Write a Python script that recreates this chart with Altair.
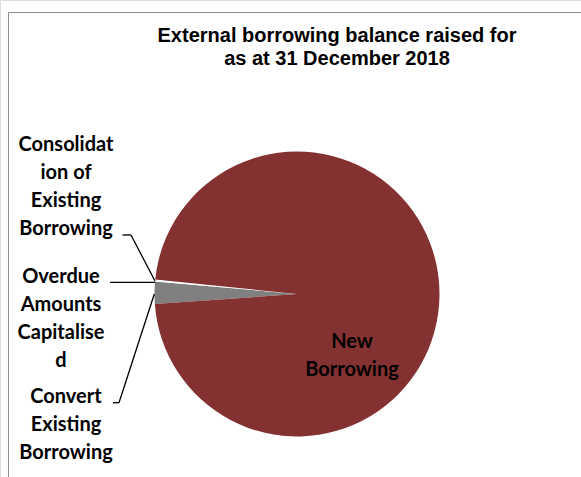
import math
import altair as alt
import pandas as pd

# ---- data ----
categories = ["Convert Existing Borrowing", "Overdue Amounts Capitalised",
              "Consolidation of Existing Borrowing", "New Borrowing"]
values = [2.53, 0.1, 0.1, 97.27]
colors = ["#808080", "#ffffff", "#ffffff", "#843131"]
title_lines = ["External borrowing balance raised for", "as at 31 December 2018"]

df = pd.DataFrame({"label": categories, "value": values, "order": list(range(len(categories)))})

W, H = 581, 477
CX, CY, R = 297, 294, 142.5
start = math.radians(265.97)

font_lbl = "Lato"
font_title = "Liberation Sans"

pie = alt.Chart(df).mark_arc(outerRadius=R).encode(
    theta=alt.Theta("value:Q", stack=True, scale=alt.Scale(range=[start, start + 2 * math.pi])),
    color=alt.Color("label:N", scale=alt.Scale(domain=categories, range=colors), legend=None),
    order=alt.Order("order:Q"),
    x=alt.value(CX), y=alt.value(CY),
)

layers = []

# frame
frame_col = "#8c8c8c"
layers.append(alt.Chart(df.head(1)).mark_rule(color=frame_col, strokeWidth=1).encode(
    x=alt.value(8.5), x2=alt.value(W), y=alt.value(12.5), y2=alt.value(12.5)))
layers.append(alt.Chart(df.head(1)).mark_rule(color=frame_col, strokeWidth=1).encode(
    x=alt.value(8.5), x2=alt.value(8.5), y=alt.value(12.5), y2=alt.value(H)))

layers.append(pie)

# title
title_df = pd.DataFrame({"t": [title_lines]})
layers.append(alt.Chart(title_df).mark_text(
    font=font_title, fontSize=20, fontWeight="bold", color="#000000",
    align="center", baseline="alphabetic", lineHeight=22.6).encode(
    text="t", x=alt.value(337), y=alt.value(42)))

# category labels (text split as in the original)
label_lines = {
    "Consolidation of Existing Borrowing": (["Consolidat", "ion of", "Existing", "Borrowing"], 66, 145),
    "Overdue Amounts Capitalised": (["Overdue", "Amounts", "Capitalise", "d"], 61, 277),
    "Convert Existing Borrowing": (["Convert", "Existing", "Borrowing"], 66, 397),
    "New Borrowing": (["New", "Borrowing"], 352, 342),
}
for cat in categories:
    lines, lx, ly = label_lines[cat]
    ldf = pd.DataFrame({"t": [lines]})
    layers.append(alt.Chart(ldf).mark_text(
        font=font_lbl, fontSize=20, fontWeight="bold", color="#000000",
        align="center", baseline="middle", lineHeight=28).encode(
        text="t", x=alt.value(lx), y=alt.value(ly)))

# leader lines
segments = [
    (122.5, 235, 131, 235), (131, 235, 155, 281),
    (110, 282.3, 155.3, 282.3),
    (113, 402.7, 119, 402.7), (119, 402.7, 154.3, 294),
]
for x1, y1, x2, y2 in segments:
    layers.append(alt.Chart(df.head(1)).mark_rule(color="#000000", strokeWidth=1.3).encode(
        x=alt.value(x1), y=alt.value(y1), x2=alt.value(x2), y2=alt.value(y2)))

chart = alt.layer(*layers).properties(
    width=W, height=H, padding=0, autosize="none"
).configure_view(stroke=None).configure(background="white")

chart.save("out.html", embed_options={"renderer": "svg", "actions": False})
